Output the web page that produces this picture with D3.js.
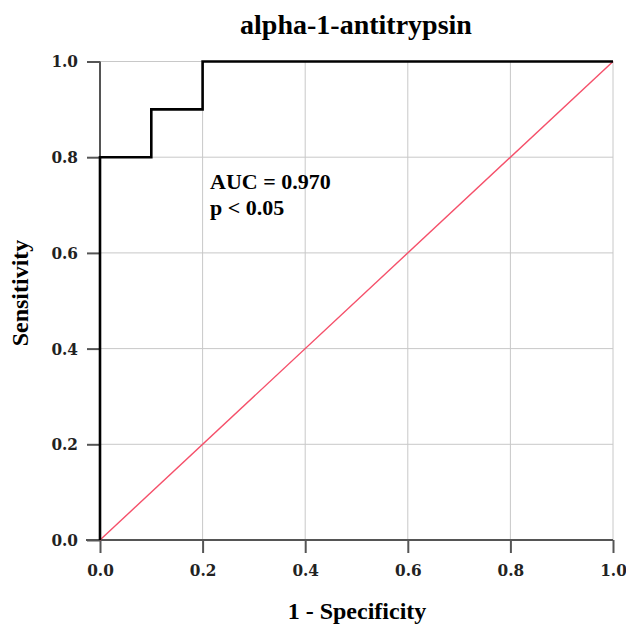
<!DOCTYPE html>
<html><head><meta charset="utf-8">
<script src="https://cdn.jsdelivr.net/npm/d3@7"></script>
<style>body{margin:0;background:#fff}</style>
</head><body>
<script>
const rocX = [0, 0, 0.1, 0.1, 0.2, 0.2, 1.0];
const rocY = [0, 0.8, 0.8, 0.9, 0.9, 1.0, 1.0];
const refX = [0, 1];
const refY = [0, 1];
const ticks = [0, 0.2, 0.4, 0.6, 0.8, 1.0];
const title = "alpha-1-antitrypsin";
const annot = ["AUC = 0.970", "p < 0.05"];

const W = 626, H = 625;
const svg = d3.select("body").append("svg").attr("width", W).attr("height", H);
const x = d3.scaleLinear().domain([0, 1]).range([100, 613]);
const y = d3.scaleLinear().domain([0, 1]).range([540, 61.5]);

// grid
const g = svg.append("g");
g.selectAll(".vg").data(ticks.slice(1)).enter().append("line")
  .attr("x1", d => x(d)).attr("x2", d => x(d)).attr("y1", y(0)).attr("y2", y(1))
  .attr("stroke", "#c8c8c8").attr("stroke-width", 1);
g.selectAll(".hg").data(ticks.slice(1)).enter().append("line")
  .attr("y1", d => y(d)).attr("y2", d => y(d)).attr("x1", x(0)).attr("x2", x(1))
  .attr("stroke", "#c8c8c8").attr("stroke-width", 1);

// axes
const xAxis = d3.axisBottom(x).tickValues(ticks).tickFormat(d3.format(".1f")).tickSize(13).tickPadding(11);
const yAxis = d3.axisLeft(y).tickValues(ticks).tickFormat(d3.format(".1f")).tickSize(13).tickPadding(9);
const xg = svg.append("g").attr("transform", `translate(0,${y(0)})`).call(xAxis);
const yg = svg.append("g").attr("transform", `translate(${x(0)},0)`).call(yAxis);
[xg, yg].forEach(a => {
  a.select(".domain").remove();
  a.selectAll(".tick line").attr("stroke", "#555").attr("stroke-width", 2);
  a.selectAll(".tick text").attr("font-family", "DejaVu Serif").attr("font-weight", "bold")
    .attr("font-stretch", "condensed")
    .attr("font-size", 17).attr("fill", "#222");
});
svg.append("line").attr("x1", x(0) - 14).attr("x2", x(1)).attr("y1", y(0)).attr("y2", y(0))
  .attr("stroke", "#555").attr("stroke-width", 2);
svg.append("line").attr("x1", x(0)).attr("x2", x(0)).attr("y1", y(0) + 1).attr("y2", y(1))
  .attr("stroke", "#555").attr("stroke-width", 2);

// reference line
svg.append("path").datum(refX.map((d, i) => [d, refY[i]]))
  .attr("d", d3.line().x(d => x(d[0])).y(d => y(d[1])))
  .attr("fill", "none").attr("stroke", "#f5506a").attr("stroke-width", 1.4);

// ROC
svg.append("path").datum(rocX.map((d, i) => [d, rocY[i]]))
  .attr("d", d3.line().x(d => x(d[0])).y(d => y(d[1])))
  .attr("fill", "none").attr("stroke", "#000").attr("stroke-width", 2.6);

// texts
svg.append("text").attr("x", 356).attr("y", 34).attr("text-anchor", "middle")
  .attr("font-family", "Liberation Serif").attr("font-weight", "bold").attr("font-size", 28)
  .text(title);
svg.selectAll(".ann").data(annot).enter().append("text")
  .attr("x", 210).attr("y", (d, i) => 189 + i * 26)
  .attr("font-family", "Liberation Serif").attr("font-weight", "bold").attr("font-size", 22)
  .text(d => d);
svg.append("text").attr("x", 357).attr("y", 619).attr("text-anchor", "middle")
  .attr("font-family", "Liberation Serif").attr("font-weight", "bold").attr("font-size", 24)
  .text("1 - Specificity");
svg.append("text").attr("transform", "translate(28,293) rotate(-90)").attr("text-anchor", "middle")
  .attr("font-family", "Liberation Serif").attr("font-weight", "bold").attr("font-size", 24)
  .text("Sensitivity");
</script>
</body></html>
